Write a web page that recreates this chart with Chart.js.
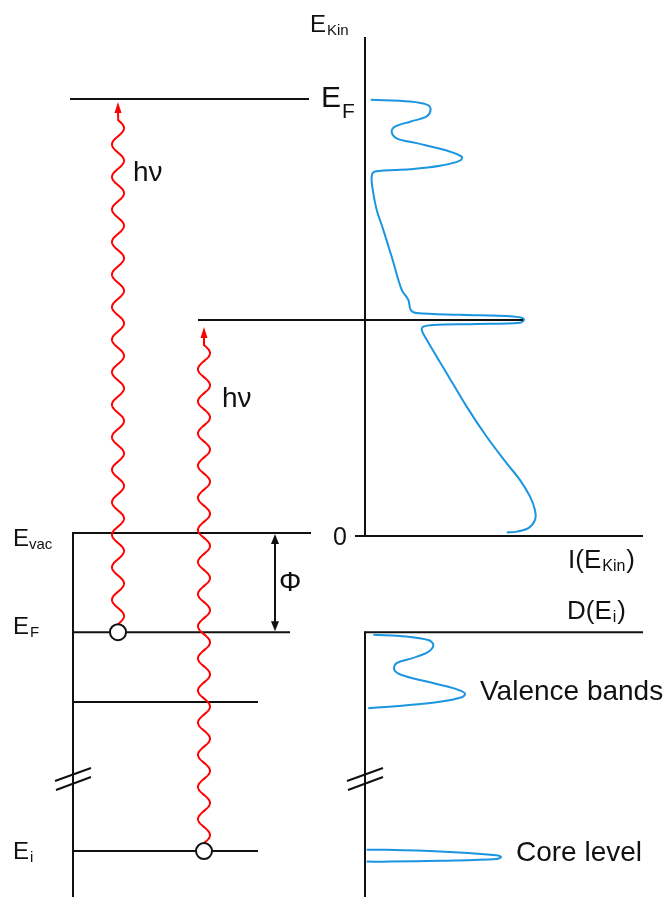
<!DOCTYPE html>
<html>
<head>
<meta charset="utf-8">
<script src="https://cdn.jsdelivr.net/npm/chart.js@4/dist/chart.umd.min.js"></script>
<style>
  body { margin: 0; background: #fff; }
  canvas { display: block; }
</style>
</head>
<body>
<canvas id="chart" width="665" height="897"></canvas>
<script>
// Energy levels (arbitrary units, E_vac = 0)
const levelEnergy = [0, -2.27, -3.87, -7.28]; // E_vac, E_F, band bottom, E_i
const kinLevels = [10, 4.94];                 // E_F and E_i seen in kinetic energy
const electronE = [-2.27, -7.28];             // electrons at E_F and E_i

// Photoemission spectrum I(E_Kin)
const kinE = [9.98, 9.94, 9.86, 9.75, 9.60, 9.48, 9.37, 9.25, 9.10, 8.99, 8.82, 8.68, 8.59, 8.47,
  8.39, 8.34, 8.22, 7.84, 7.46, 7.00, 6.39, 5.63, 5.40, 5.17, 5.10, 5.06, 5.02, 4.96, 4.88, 4.85,
  4.83, 4.79, 4.71, 4.49, 3.72, 2.96, 2.27, 1.66, 1.28, 0.90, 0.59, 0.37, 0.18, 0.10, 0.08];
const kinI = [3.4, 26.5, 37.1, 38.6, 36.3, 26.5, 17.6, 15.7, 18.6, 30.4, 48.1, 56.9, 55.9, 44.1,
  26.5, 5.9, 3.9, 4.9, 6.9, 10.8, 15.7, 21.6, 25.5, 26.9, 30.4, 55.9, 87.2, 93.5, 91.2, 65.7,
  40.2, 34.3, 33.4, 36.3, 48.1, 59.8, 71.6, 83.4, 91.2, 97.1, 100, 100, 96.1, 89.2, 83.4];

// Density of states D(E_i): valence bands and core level
const valE = [-2.33, -2.37, -2.45, -2.56, -2.72, -2.87, -2.98, -3.12, -3.25, -3.40, -3.55, -3.67, -3.76, -3.86, -3.94, -4.01];
const valI = [4.9, 24.5, 37.2, 40.2, 37.2, 27.5, 18.6, 17.1, 21.6, 36.3, 51.9, 58.8, 56.9, 44.1, 24.5, 1.9];
const coreE = [-7.25, -7.25, -7.29, -7.37, -7.41, -7.46, -7.50, -7.52, -7.52];
const coreI = [1.0, 12.8, 44.1, 75.5, 80.0, 77.5, 44.1, 14.7, 1.0];

// layout (diagram x units)
const levelSpan = [[73, 311], [73, 290], [73, 258], [73, 258]];
const kinSpan = [[70, 309], [198, 523]];
const electronX = [118, 204];

const BLUE = '#1b95e0';
const INK = '#111';
const FONT = '"Liberation Sans", Arial, sans-serif';

const pts = (xs, ys) => xs.map((v, i) => ({ x: v, y: ys[i] }));

const datasets = [
  {
    label: 'electrons',
    data: pts(electronX, electronE),
    xAxisID: 'x', yAxisID: 'yE',
    pointRadius: 8, pointBackgroundColor: '#fff', pointBorderColor: INK, pointBorderWidth: 2,
    showLine: false
  }
];
levelEnergy.forEach((e, i) => {
  datasets.push({
    data: [{ x: levelSpan[i][0], y: e }, { x: levelSpan[i][1], y: e }],
    xAxisID: 'x', yAxisID: 'yE', showLine: true, borderColor: INK, borderWidth: 2, pointRadius: 0
  });
});
kinLevels.forEach((e, i) => {
  datasets.push({
    data: [{ x: kinSpan[i][0], y: e }, { x: kinSpan[i][1], y: e }],
    xAxisID: 'x', yAxisID: 'yK', showLine: true, borderColor: INK, borderWidth: 2, pointRadius: 0
  });
});
const curve = (xs, ys, yId) => ({
  data: pts(xs, ys), xAxisID: 'xI', yAxisID: yId, showLine: true,
  borderColor: BLUE, borderWidth: 2, pointRadius: 0, tension: 0.35
});
datasets.push(curve(kinI, kinE, 'yK'), curve(valI, valE, 'yE'), curve(coreI, coreE, 'yE'));

function line(ctx, x1, y1, x2, y2) {
  ctx.beginPath(); ctx.moveTo(x1, y1); ctx.lineTo(x2, y2); ctx.stroke();
}
function head(ctx, x, y, dir, len, half) {
  ctx.beginPath();
  ctx.moveTo(x, y);
  ctx.lineTo(x - half, y + dir * len);
  ctx.lineTo(x + half, y + dir * len);
  ctx.closePath(); ctx.fill();
}
function photon(ctx, x, yBot, yTop) {
  const yw = yTop + 18, amp = 6, halfWaves = 31;
  const len = yBot - yw, period = 2 * len / halfWaves;
  ctx.beginPath();
  ctx.moveTo(x, yBot);
  for (let d = 0; d <= len; d += 0.5) {
    ctx.lineTo(x + amp * Math.sin(2 * Math.PI * d / period), yBot - d);
  }
  ctx.lineTo(x, yTop + 9);
  ctx.stroke();
  head(ctx, x, yTop, 1, 11, 3.5);
}
function text(ctx, parts, x, y) {
  parts.forEach(p => {
    ctx.font = p[1] + 'px ' + FONT;
    ctx.fillText(p[0], x, y + (p[2] || 0));
    x += ctx.measureText(p[0]).width + (p[3] || 0);
  });
}

const schematic = {
  id: 'schematic',
  beforeDatasetsDraw(chart) {
    const { ctx, scales } = chart;
    const X = scales.x, yE = scales.yE, yK = scales.yK;
    ctx.save();
    ctx.strokeStyle = INK; ctx.fillStyle = INK; ctx.lineWidth = 2;
    const x0 = X.getPixelForValue(365);
    // upper panel axes
    line(ctx, x0, 37, x0, yK.getPixelForValue(0) + 1);
    line(ctx, X.getPixelForValue(355), yK.getPixelForValue(0), X.getPixelForValue(643), yK.getPixelForValue(0));
    // lower panel axes
    const yF = yE.getPixelForValue(levelEnergy[1]);
    line(ctx, x0, yF - 1, x0, chart.height);
    line(ctx, x0, yF, X.getPixelForValue(643), yF);
    // left energy axis
    const xl = X.getPixelForValue(73);
    line(ctx, xl, yE.getPixelForValue(0) - 1, xl, chart.height);
    // axis breaks
    [xl, x0].forEach(xc => {
      line(ctx, xc - 18, 781, xc + 18, 768);
      line(ctx, xc - 17, 790, xc + 18, 777);
    });
    // work function arrow
    const xp = X.getPixelForValue(275);
    const yv = yE.getPixelForValue(0) + 1;
    line(ctx, xp, yv + 8, xp, yF - 9);
    head(ctx, xp, yv, 1, 10, 4);
    head(ctx, xp, yF - 1, -1, 10, 4);
    ctx.restore();
  },
  beforeDatasetDraw(chart, args) {
    if (args.index !== 0) return;
    const { ctx, scales } = chart;
    ctx.save();
    ctx.strokeStyle = '#ff0000'; ctx.fillStyle = '#ff0000'; ctx.lineWidth = 2;
    photon(ctx, scales.x.getPixelForValue(electronX[0]),
      scales.yE.getPixelForValue(electronE[0]) - 8, scales.yK.getPixelForValue(kinLevels[0]) + 3);
    photon(ctx, scales.x.getPixelForValue(electronX[1]),
      scales.yE.getPixelForValue(electronE[1]) - 8, scales.yK.getPixelForValue(kinLevels[1]) + 7);
    ctx.restore();
  },
  afterDraw(chart) {
    const { ctx } = chart;
    ctx.save();
    ctx.fillStyle = INK;
    ctx.textBaseline = 'alphabetic';
    text(ctx, [['E', 24, 0, 1], ['Kin', 15, 3]], 310, 32);
    text(ctx, [['E', 30, 0, 1], ['F', 21, 11]], 321, 107);
    text(ctx, [['hν', 28]], 133, 181);
    text(ctx, [['hν', 28]], 222, 407);
    text(ctx, [['0', 25]], 333, 545);
    text(ctx, [['I(E', 26, 0, 1], ['Kin', 16, 3, 1], [')', 26]], 568, 568);
    text(ctx, [['D(E', 26, 0, 1], ['i', 16, 3, 1], [')', 26]], 567, 619);
    text(ctx, [['E', 24], ['vac', 15, 3]], 13, 546);
    text(ctx, [['E', 24, 0, 1], ['F', 15, 3]], 13, 634);
    text(ctx, [['E', 24, 0, 1], ['i', 15, 3]], 13, 859);
    text(ctx, [['Φ', 28]], 279, 591);
    text(ctx, [['Valence bands', 28]], 480, 700);
    text(ctx, [['Core level', 28]], 516, 861);
    ctx.restore();
  }
};

new Chart(document.getElementById('chart'), {
  type: 'scatter',
  data: { datasets },
  options: {
    responsive: false,
    animation: false,
    devicePixelRatio: 1,
    layout: { padding: 0, autoPadding: false },
    plugins: { legend: { display: false }, tooltip: { enabled: false } },
    scales: {
      x: { type: 'linear', display: false, min: 0, max: 665 },
      xI: { type: 'linear', display: false, min: -214.71, max: 176.47 },
      yE: { type: 'linear', display: false, min: -8.33, max: 12.197 },
      yK: { type: 'linear', display: false, min: -8.261, max: 12.265 }
    }
  },
  plugins: [schematic]
});
</script>
</body>
</html>
